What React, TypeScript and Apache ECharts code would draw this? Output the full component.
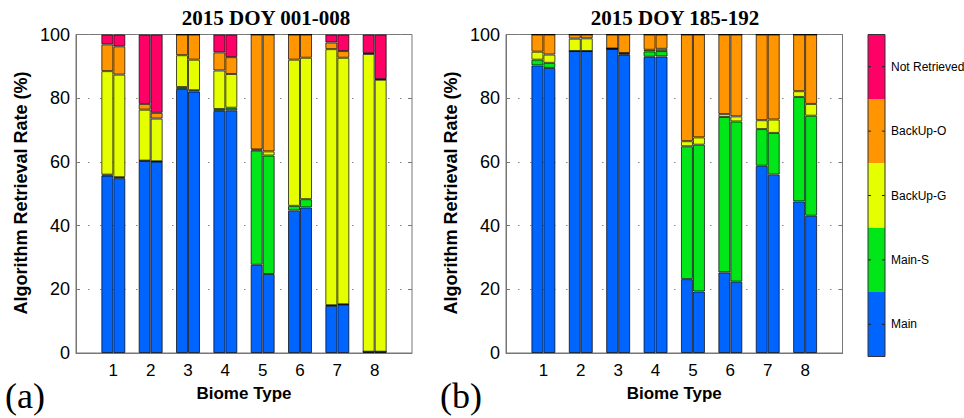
import React, { useEffect, useRef } from "react";
import * as echarts from "echarts";

// ---------- data ----------
const biomes = ["1", "2", "3", "4", "5", "6", "7", "8"];
const segmentNames = ["Main", "Main-S", "BackUp-G", "BackUp-O", "Not Retrieved"];
const segmentColors = ["#0064FF", "#00E619", "#E5FF00", "#FF9500", "#FF0066"];
const panelTitles = ["2015 DOY 001-008", "2015 DOY 185-192"];
const panelLetters = ["(a)", "(b)"];

// Panel (a) – first bar of each pair
const aMainL = [55.7, 60.3, 82.9, 76.0, 27.7, 44.7, 14.8, 0.4];
const aMainSL = [0.3, 0.1, 0.6, 0.6, 35.9, 1.5, 0.2, 0];
const aBackGL = [32.5, 16.0, 10.0, 12.1, 0.3, 45.9, 80.4, 93.5];
const aBackOL = [8.4, 1.8, 6.5, 5.7, 36.1, 7.9, 2.1, 0.2];
const aNotRL = [3.1, 21.8, 0, 5.6, 0, 0, 2.5, 5.9];
// Panel (a) – second bar of each pair
const aMainR = [54.9, 60.1, 82.1, 76.2, 24.8, 45.7, 15.2, 0.4];
const aMainSR = [0.3, 0.1, 0.4, 0.8, 37.2, 2.6, 0.1, 0];
const aBackGR = [32.2, 13.4, 9.6, 10.6, 1.3, 44.4, 77.4, 85.4];
const aBackOR = [8.9, 1.8, 7.9, 5.3, 36.7, 7.3, 2.1, 0.2];
const aNotRR = [3.7, 24.6, 0, 7.1, 0, 0, 5.2, 14.0];

// Panel (b) – first bar of each pair
const bMainL = [90.3, 94.8, 95.5, 93.0, 23.2, 25.3, 58.8, 47.6];
const bMainSL = [1.8, 0, 0, 1.7, 41.7, 48.8, 11.5, 32.8];
const bBackGL = [2.5, 3.9, 0.1, 0.5, 1.6, 0.9, 2.8, 1.8];
const bBackOL = [5.4, 1.3, 4.4, 4.8, 33.5, 25.0, 26.9, 17.8];
const bNotRL = [0, 0, 0, 0, 0, 0, 0, 0];
// Panel (b) – second bar of each pair
const bMainR = [89.5, 94.8, 93.7, 93.1, 19.3, 22.4, 56.0, 43.1];
const bMainSR = [1.6, 0, 0.3, 1.7, 46.1, 50.3, 13.1, 31.4];
const bBackGR = [2.6, 4.0, 0.2, 0.7, 2.3, 1.6, 4.2, 3.7];
const bBackOR = [6.3, 1.2, 5.8, 4.5, 32.3, 25.7, 26.7, 21.8];
const bNotRR = [0, 0, 0, 0, 0, 0, 0, 0];

const panels = [
  [
    [aMainL, aMainSL, aBackGL, aBackOL, aNotRL],
    [aMainR, aMainSR, aBackGR, aBackOR, aNotRR],
  ],
  [
    [bMainL, bMainSL, bBackGL, bBackOL, bNotRL],
    [bMainR, bMainSR, bBackGR, bBackOR, bNotRR],
  ],
];

// ---------- layout ----------
const SANS = "Liberation Sans, Arial, Helvetica, sans-serif";
const SERIF = "Liberation Serif, Times New Roman, serif";
const GRAY = "#777777";
const grids = [
  { left: 76, top: 34.5, width: 336, height: 318.5 },
  { left: 506, top: 34.5, width: 336.5, height: 318.5 },
];
const titleCenters = [266, 675];

export default function App() {
  const ref = useRef<HTMLDivElement>(null);

  useEffect(() => {
    document.body.style.margin = "0";
    if (!ref.current) return;
    const chart = echarts.init(ref.current, null, { renderer: "svg" });

    const xCats = ["", ...biomes, ""];

    const xAxis = grids.map((_, i) => ({
      type: "category",
      gridIndex: i,
      data: xCats,
      boundaryGap: false,
      axisLine: { show: true, lineStyle: { color: GRAY, width: 1 } },
      axisTick: { show: false },
      axisLabel: { color: "#000", fontSize: 17, fontFamily: SANS, margin: 9, interval: 0 },
      splitLine: { show: false },
    }));

    const yAxis: any[] = [];
    grids.forEach((_, i) => {
      yAxis.push({
        type: "value",
        gridIndex: i,
        min: 0,
        max: 100,
        interval: 20,
        position: "left",
        axisLine: { show: true, lineStyle: { color: GRAY, width: 1 } },
        axisTick: { show: true, inside: true, length: 4, lineStyle: { color: GRAY } },
        axisLabel: { color: "#000", fontSize: 18, fontFamily: SANS, margin: 6 },
        splitLine: { show: true, lineStyle: { color: "#888", type: [1.5, 10.5], width: 1 } },
      });
      yAxis.push({
        type: "value",
        gridIndex: i,
        min: 0,
        max: 100,
        interval: 20,
        position: "right",
        axisLine: { show: false },
        axisTick: { show: true, inside: true, length: 4, lineStyle: { color: GRAY } },
        axisLabel: { show: false },
        splitLine: { show: false },
      });
    });

    const series: any[] = [];
    panels.forEach((pairs, p) => {
      pairs.forEach((segs, side) => {
        segs.forEach((vals, k) => {
          series.push({
            type: "bar",
            name: segmentNames[k],
            xAxisIndex: p,
            yAxisIndex: p * 2,
            stack: `p${p}s${side}`,
            barWidth: 12,
            barGap: "0%",
            data: ["-", ...vals, "-"],
            itemStyle: {
              color: segmentColors[k],
              borderColor: "rgba(0,0,0,0.7)",
              borderWidth: 1,
            },
            emphasis: { disabled: true },
          });
        });
      });
    });

    const graphic: any[] = [];
    grids.forEach((g, i) => {
      graphic.push({
        type: "text",
        x: titleCenters[i],
        y: 18,
        style: {
          text: panelTitles[i],
          font: `bold 21px ${SERIF}`,
          fill: "#000",
          textAlign: "center",
          textVerticalAlign: "middle",
        },
      });
      graphic.push({
        type: "text",
        x: g.left + g.width / 2,
        y: 393,
        style: {
          text: "Biome Type",
          font: `bold 17px ${SANS}`,
          fill: "#000",
          textAlign: "center",
          textVerticalAlign: "middle",
        },
      });
      graphic.push({
        type: "text",
        x: g.left - 55,
        y: 193,
        rotation: Math.PI / 2,
        style: {
          text: "Algorithm Retrieval Rate (%)",
          font: `bold 18px ${SANS}`,
          fill: "#000",
          textAlign: "center",
          textVerticalAlign: "middle",
        },
      });
      graphic.push({
        type: "text",
        x: i === 0 ? 5 : 440,
        y: 396,
        style: {
          text: panelLetters[i],
          font: `36px ${SERIF}`,
          fill: "#000",
          textAlign: "left",
          textVerticalAlign: "middle",
        },
      });
    });

    // colorbar
    const cbX = 868;
    const cbW = 17;
    const cbTop = 34.5;
    const cbH = 322;
    const band = cbH / segmentNames.length;
    for (let k = 0; k < segmentNames.length; k++) {
      const idx = segmentNames.length - 1 - k;
      const y0 = cbTop + k * band;
      graphic.push({
        type: "rect",
        shape: { x: cbX, y: y0, width: cbW, height: band },
        style: { fill: segmentColors[idx], stroke: null },
      });
      const yc = y0 + band / 2;
      graphic.push({
        type: "line",
        shape: { x1: cbX, y1: yc, x2: cbX + 3, y2: yc },
        style: { stroke: "#222", lineWidth: 1 },
      });
      graphic.push({
        type: "line",
        shape: { x1: cbX + cbW - 3, y1: yc, x2: cbX + cbW, y2: yc },
        style: { stroke: "#222", lineWidth: 1 },
      });
      graphic.push({
        type: "text",
        x: cbX + cbW + 6,
        y: yc,
        style: {
          text: segmentNames[idx],
          font: `12px ${SANS}`,
          fill: "#000",
          textAlign: "left",
          textVerticalAlign: "middle",
        },
      });
    }
    graphic.push({
      type: "rect",
      shape: { x: cbX, y: cbTop, width: cbW, height: cbH },
      style: { fill: "none", stroke: "#333", lineWidth: 1 },
    });

    chart.setOption({
      animation: false,
      grid: grids.map((g) => ({
        ...g,
        show: true,
        borderColor: GRAY,
        borderWidth: 1,
        backgroundColor: "#fff",
        containLabel: false,
      })),
      xAxis,
      yAxis,
      series,
      graphic,
    });

    return () => chart.dispose();
  }, []);

  return <div ref={ref} style={{ width: 964, height: 418 }} />;
}
